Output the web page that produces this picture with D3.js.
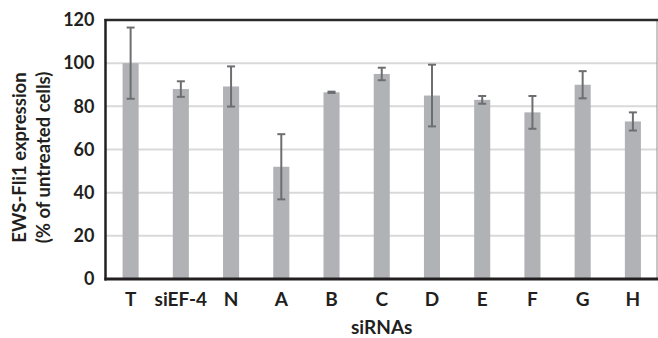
<!DOCTYPE html>
<html><head><meta charset="utf-8">
<script src="https://cdn.jsdelivr.net/npm/d3@7"></script>
<style>
html,body{margin:0;padding:0;background:#fff;}
svg{display:block;}
text{font-family:Lato,"Open Sans",sans-serif;font-weight:700;fill:#231f20;}
</style></head>
<body>
<svg id="chart" width="658" height="338"></svg>
<script>
const categories = ["T","siEF-4","N","A","B","C","D","E","F","G","H"];
const values = [100, 88, 89.2, 52, 86.5, 95, 85, 83, 77.2, 90, 73];
const errors = [16.5, 3.6, 9.3, 15.1, 0.3, 2.9, 14.3, 1.8, 7.6, 6.3, 4.2];
const yTicks = [0, 20, 40, 60, 80, 100, 120];
const yTitle = ["EWS-Fli1 expression", "(% of untreated cells)"];
const xTitle = "siRNAs";

const svg = d3.select("#chart");
const L = 105.5, R = 658, T = 20, B = 279;

const x = d3.scaleBand().domain(categories).range([L, R]).paddingInner(0.68).paddingOuter(0.34);
const y = d3.scaleLinear().domain([0, 120]).range([B, T]);

// gridlines
svg.append("g").selectAll("line").data(yTicks.filter(d => d > 0 && d < 120)).join("line")
  .attr("x1", L).attr("x2", R - 1).attr("y1", d => y(d)).attr("y2", d => y(d))
  .attr("stroke", "#d9d9d9").attr("stroke-width", 2);

// bars
svg.append("g").selectAll("rect").data(categories).join("rect")
  .attr("x", d => x(d)).attr("width", x.bandwidth())
  .attr("y", (d, i) => y(values[i])).attr("height", (d, i) => B - y(values[i]))
  .attr("fill", "#b1b2b5");

// error bars
const eb = svg.append("g").attr("stroke", "#6d6e71").attr("stroke-width", 2);
categories.forEach((c, i) => {
  const cx = x(c) + x.bandwidth() / 2;
  const hi = y(values[i] + errors[i]), lo = y(values[i] - errors[i]);
  eb.append("line").attr("x1", cx).attr("x2", cx).attr("y1", hi).attr("y2", lo);
  eb.append("line").attr("x1", cx - 4).attr("x2", cx + 4).attr("y1", hi).attr("y2", hi);
  eb.append("line").attr("x1", cx - 4).attr("x2", cx + 4).attr("y1", lo).attr("y2", lo);
});

// frame
svg.append("line").attr("x1", R - 1).attr("x2", R - 1).attr("y1", T).attr("y2", B)
  .attr("stroke", "#8c8c8c").attr("stroke-width", 1);
svg.append("line").attr("x1", L - 1).attr("x2", R).attr("y1", T).attr("y2", T)
  .attr("stroke", "#2b2b2b").attr("stroke-width", 2.5);
svg.append("line").attr("x1", L - 1).attr("x2", R).attr("y1", B).attr("y2", B)
  .attr("stroke", "#231f20").attr("stroke-width", 3);
svg.append("line").attr("x1", L).attr("x2", L).attr("y1", T - 1).attr("y2", B + 1.5)
  .attr("stroke", "#231f20").attr("stroke-width", 2.5);

// y axis labels
const ya = svg.append("g").attr("transform", `translate(${L},0)`)
  .call(d3.axisLeft(y).tickValues(yTicks).tickSize(0).tickPadding(11));
ya.select(".domain").remove();
ya.selectAll("text").style("font-size", "18px").style("font-family", "Lato").style("font-weight", 700).attr("fill", "#231f20");

// x axis labels
const xa = svg.append("g").attr("transform", `translate(0,${B})`)
  .call(d3.axisBottom(x).tickSize(0).tickPadding(14));
xa.select(".domain").remove();
xa.selectAll("text").style("font-size", "19px").style("font-family", "Lato").style("font-weight", 700).attr("fill", "#231f20");

// titles
svg.append("text").attr("x", (L + R) / 2).attr("y", 334).attr("text-anchor", "middle")
  .style("font-size", "19px").text(xTitle);
const yt = svg.append("text").attr("transform", `translate(0,${(T + B) / 2 + 8}) rotate(-90)`)
  .attr("text-anchor", "middle").style("font-size", "18.5px");
yt.append("tspan").attr("x", 0).attr("y", 26).text(yTitle[0]);
yt.append("tspan").attr("x", 0).attr("y", 50).text(yTitle[1]);
</script>
</body></html>
